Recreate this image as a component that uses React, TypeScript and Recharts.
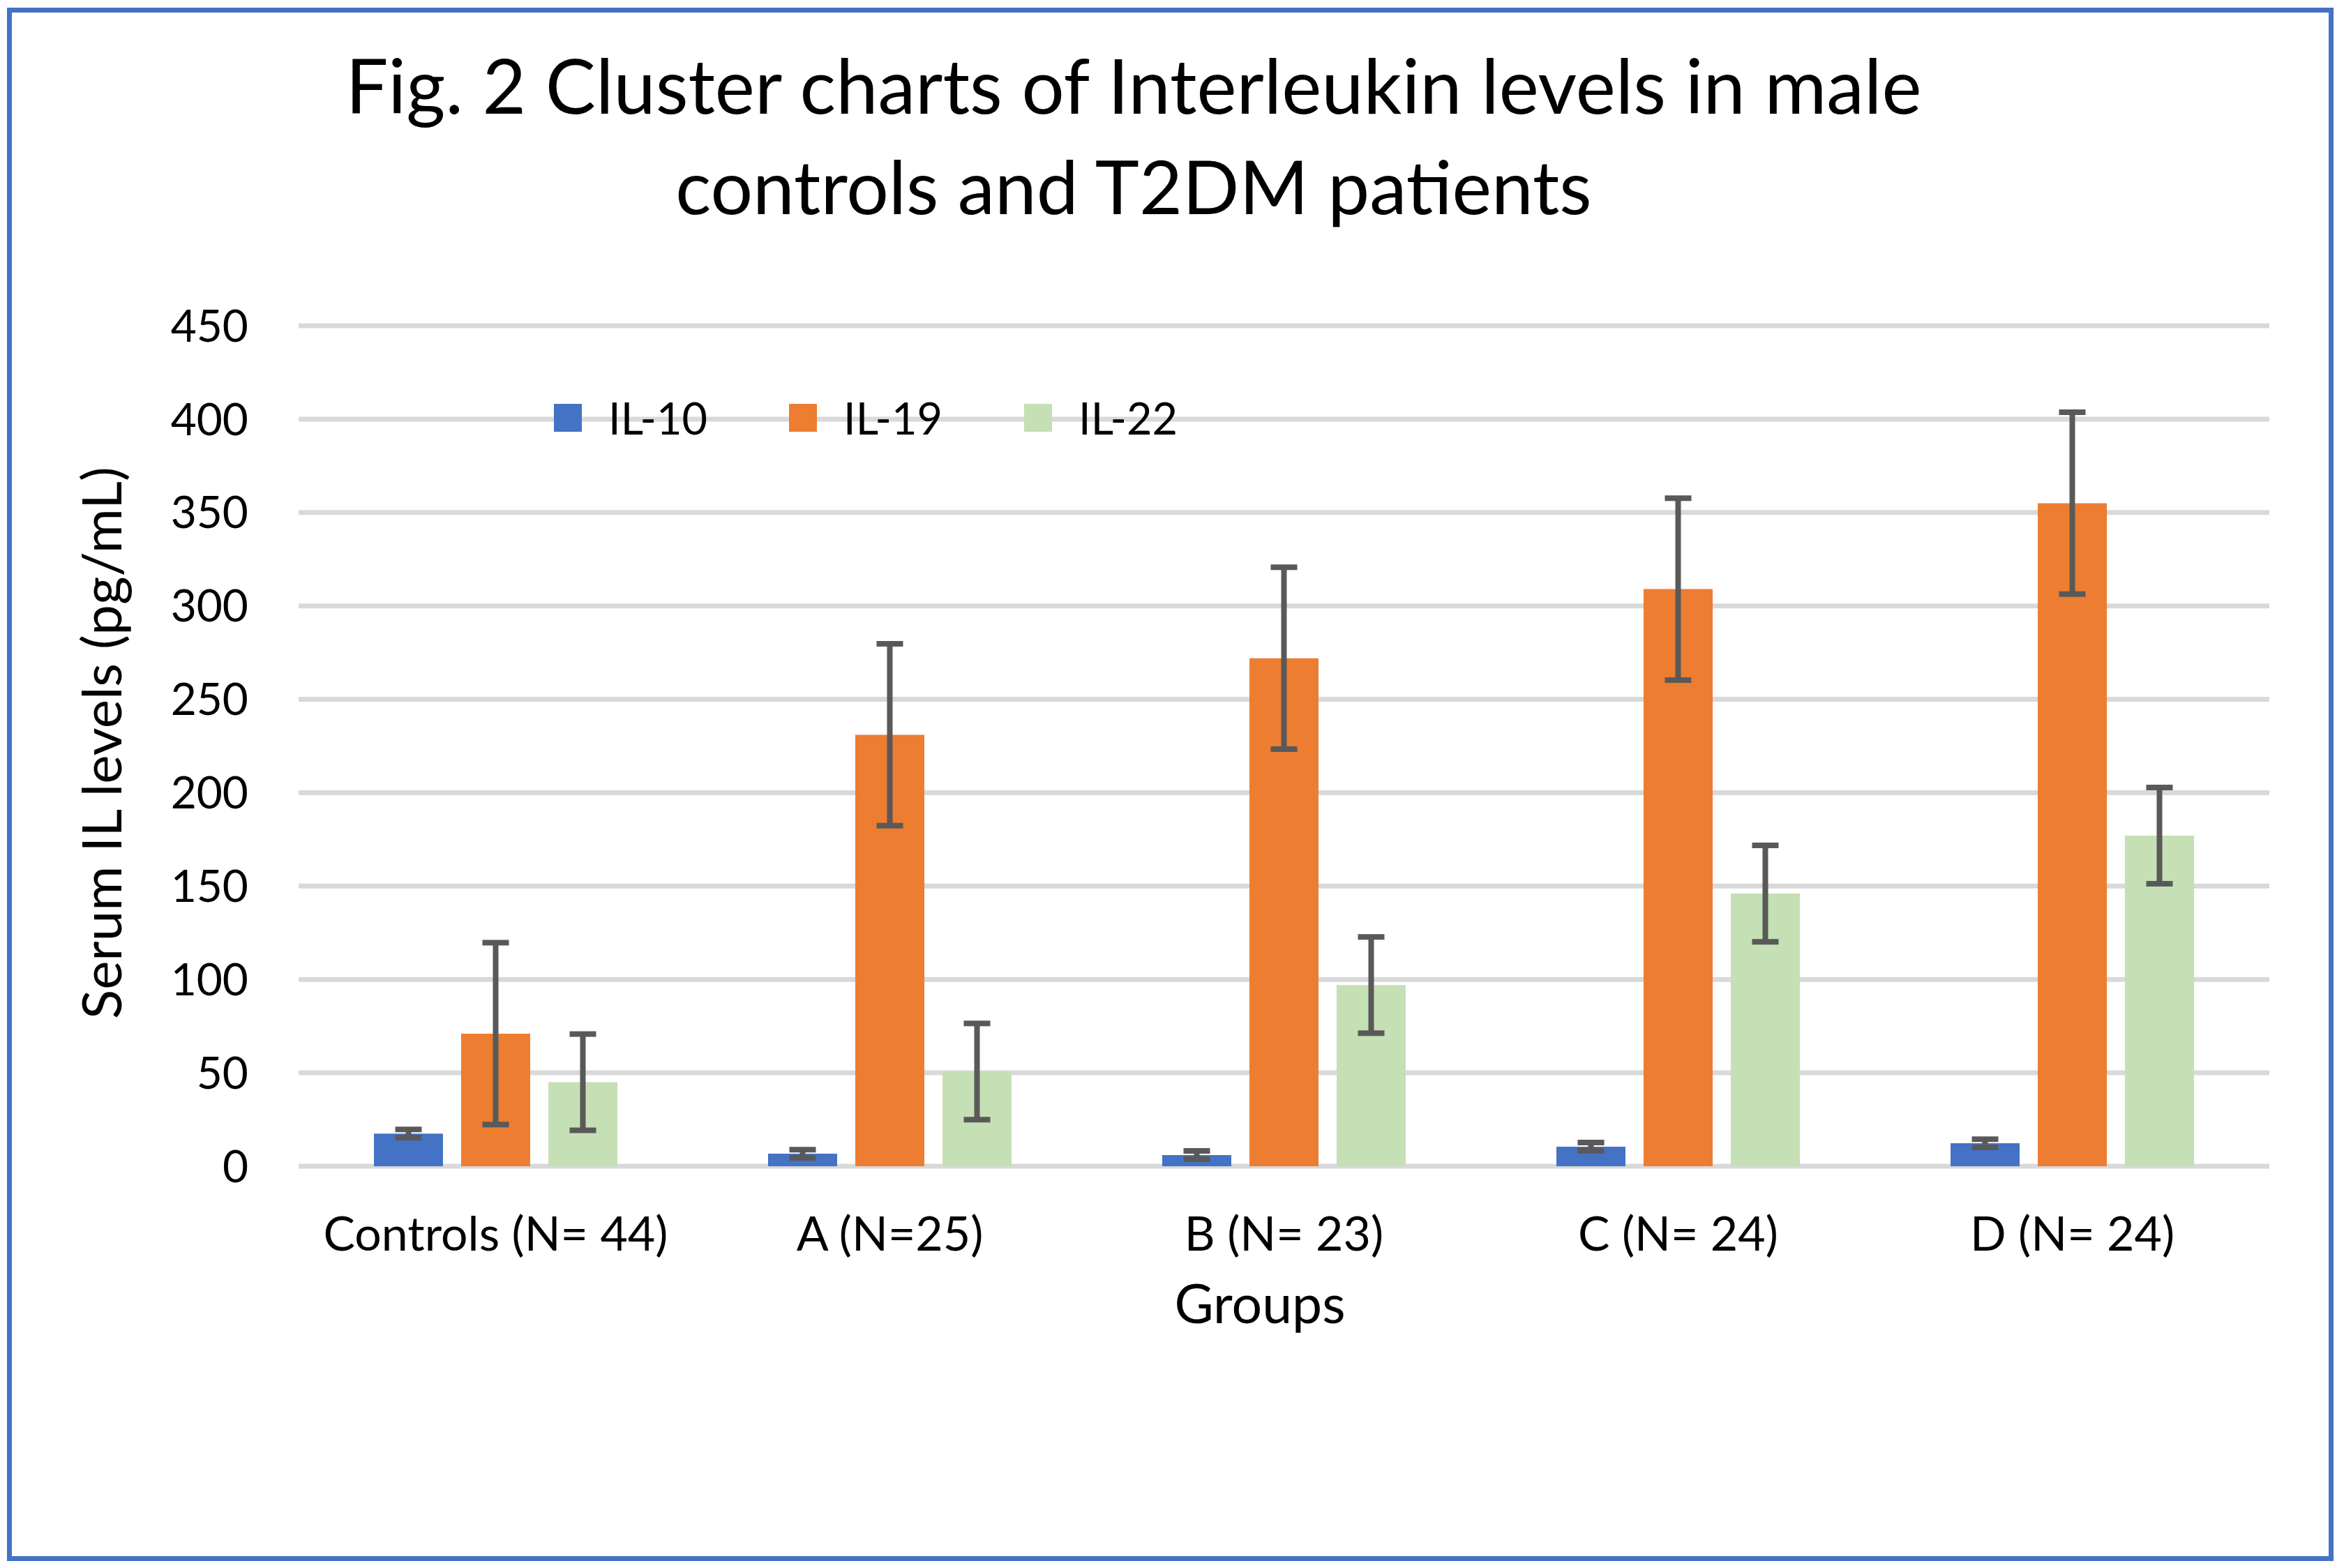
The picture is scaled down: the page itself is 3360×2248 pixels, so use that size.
import React from 'react';
import { BarChart, Bar, XAxis, YAxis, CartesianGrid, ErrorBar, Legend } from 'recharts';

const categories = ['Controls (N= 44)', 'A (N=25)', 'B (N= 23)', 'C (N= 24)', 'D (N= 24)'];
const il10 = [17.5, 6.7, 6.0, 10.5, 12.3];
const il10Err = [2.2, 2.2, 2.2, 2.2, 2.2];
const il19 = [71, 231, 272, 309, 355];
const il19Err = [48.7, 48.7, 48.7, 48.7, 48.7];
const il22 = [45, 50.7, 97, 146, 177];
const il22Err = [25.8, 25.8, 25.8, 25.8, 25.8];
const yTicks = [0, 50, 100, 150, 200, 250, 300, 350, 400, 450];

const data = categories.map((c, i) => ({
  group: c,
  il10: il10[i],
  il10Err: il10Err[i],
  il19: il19[i],
  il19Err: il19Err[i],
  il22: il22[i],
  il22Err: il22Err[i],
}));

const FONT = 'Lato, "Open Sans", sans-serif';
const LEGEND_H = 76;

const renderLegend = (props: any) => {
  const { payload } = props;
  return (
    <div style={{ display: 'flex', alignItems: 'center', height: LEGEND_H, fontFamily: FONT, fontSize: 63, lineHeight: `${LEGEND_H}px`, color: '#000' }}>
      {payload.map((p: any, i: number) => (
        <div key={i} style={{ display: 'flex', alignItems: 'center', marginRight: 117 }}>
          <div style={{ width: 40, height: 40, background: p.color, marginRight: 38 }} />
          <span>{p.value}</span>
        </div>
      ))}
    </div>
  );
};

export default function App() {
  return (
    <div style={{ position: 'absolute', left: 0, top: 0, width: 3360, height: 2248, background: '#fff' }}>
      <div
        style={{
          position: 'absolute',
          left: 10,
          top: 11,
          width: 3335,
          height: 2227,
          border: '7px solid #4472C4',
          boxSizing: 'border-box',
        }}
      />
      <div style={{ position: 'absolute', left: 0, top: 0 }}>
        <BarChart
          width={3360}
          height={2248}
          data={data}
          margin={{ top: 467 - LEGEND_H, right: 107, bottom: 476, left: 328 }}
          barSize={99}
          barGap={26}
        >
          <CartesianGrid vertical={false} stroke="#D9D9D9" strokeWidth={7} />
          <XAxis
            dataKey="group"
            axisLine={false}
            tickLine={false}
            tickSize={0}
            tickMargin={73}
            height={100}
            interval={0}
            tick={{ fill: '#000', fontSize: 68, fontFamily: FONT }}
          />
          <YAxis
            domain={[0, 450]}
            ticks={yTicks}
            axisLine={false}
            tickLine={false}
            tickSize={0}
            tickMargin={72}
            width={100}
            tick={{ fill: '#000', fontSize: 64, fontFamily: FONT }}
          />
          <Legend
            layout="horizontal"
            verticalAlign="top"
            align="left"
            height={LEGEND_H}
            content={renderLegend}
            wrapperStyle={{ position: 'absolute', left: 794, top: 561, width: 1200 }}
          />
          <Bar dataKey="il10" name="IL-10" fill="#4472C4" isAnimationActive={false}>
            <ErrorBar dataKey="il10Err" stroke="#595959" strokeWidth={8} width={19} />
          </Bar>
          <Bar dataKey="il19" name="IL-19" fill="#ED7D31" isAnimationActive={false}>
            <ErrorBar dataKey="il19Err" stroke="#595959" strokeWidth={8} width={19} />
          </Bar>
          <Bar dataKey="il22" name="IL-22" fill="#C5E0B4" isAnimationActive={false}>
            <ErrorBar dataKey="il22Err" stroke="#595959" strokeWidth={8} width={19} />
          </Bar>
        </BarChart>
      </div>
      <svg
        width={3360}
        height={2248}
        style={{ position: 'absolute', left: 0, top: 0, pointerEvents: 'none' }}
      >
        <text x={1625} y={163} textAnchor="middle" fontFamily={FONT} fontSize={108} fill="#000">
          Fig. 2 Cluster charts of Interleukin levels in male
        </text>
        <text x={1625} y={307} textAnchor="middle" fontFamily={FONT} fontSize={107} fill="#000">
          controls and T2DM patients
        </text>
        <text x={1806} y={1897} textAnchor="middle" fontFamily={FONT} fontSize={77} fill="#000">
          Groups
        </text>
        <text
          x={174}
          y={1065}
          textAnchor="middle"
          fontFamily={FONT}
          fontSize={78}
          fill="#000"
          transform="rotate(-90, 174, 1065)"
        >
          Serum IL levels (pg/mL)
        </text>
      </svg>
    </div>
  );
}
